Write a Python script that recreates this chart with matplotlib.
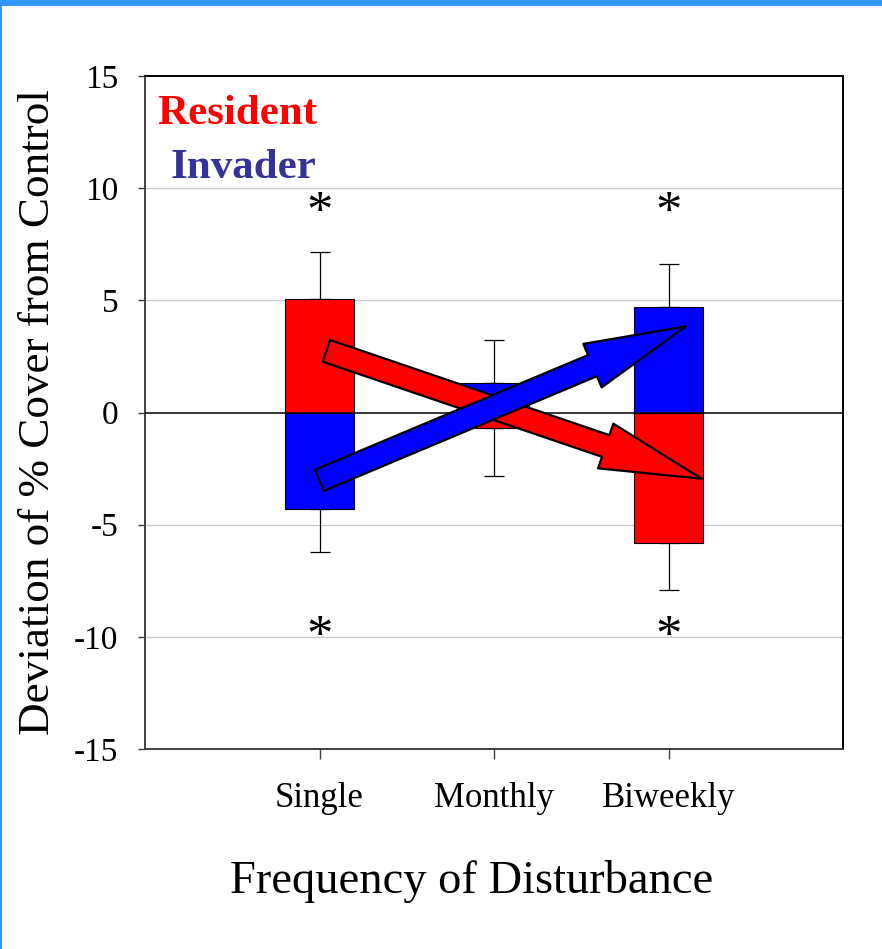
import matplotlib
matplotlib.use("Agg")
import matplotlib.pyplot as plt
from matplotlib.patches import FancyArrowPatch, Rectangle
import numpy as np

plt.rcParams["font.family"] = ["Liberation Serif", "DejaVu Serif"]
plt.rcParams["axes.unicode_minus"] = False

# disturbance treatments and mean deviation from control (% cover)
categories = ["Single", "Monthly", "Biweekly"]
resident = [5.05, -0.70, -5.80]
invader = [-4.30, 1.31, 4.72]
resident_se = [2.10, 2.13, 2.10]
invader_se = [1.90, 1.93, 1.90]
# significant differences marked above / below
star_y = [9.4, -9.5]
star_cats = [0, 2]
# trend arrows: (start, end) in data units
resident_trend = [(1.04, 2.75), (3.19, -2.95)]
invader_trend = [(1.00, -3.02), (3.10, 3.84)]

RED = "#ff0000"
BLUE = "#0000ff"

fig = plt.figure(figsize=(8.82, 9.49), dpi=100)
ax = fig.add_axes([0.1644, 0.2107, 0.7914, 0.7092])

x = np.arange(1, len(categories) + 1)
w = 0.4


def one_sided(vals, errs):
    vals = np.asarray(vals)
    errs = np.asarray(errs)
    lower = np.where(vals < 0, errs, 0)
    upper = np.where(vals >= 0, errs, 0)
    return [lower, upper]


ax.bar(x, resident, w, color=RED, edgecolor="black", linewidth=0.8, zorder=3)
ax.bar(x, invader, w, color=BLUE, edgecolor="black", linewidth=0.8, zorder=3)
ax.errorbar(x, resident, yerr=one_sided(resident, resident_se), fmt="none",
            ecolor="black", elinewidth=0.9, capsize=7, capthick=0.9, zorder=2)
ax.errorbar(x, invader, yerr=one_sided(invader, invader_se), fmt="none",
            ecolor="black", elinewidth=0.9, capsize=7, capthick=0.9, zorder=2)

# asterisk glyph sits high in its line box, so nudge it down a bit
for i in star_cats:
    for y in star_y:
        ax.annotate("*", (x[i], y), xytext=(0, -9), textcoords="offset points",
                    ha="center", va="center", fontsize=38, zorder=4)

# arrows showing the switch in dominance
for (p0, p1), col, z in [(resident_trend, RED, 5), (invader_trend, BLUE, 6)]:
    arr = FancyArrowPatch(p0, p1, arrowstyle="simple,head_length=73,head_width=34,tail_width=16.5",
                          mutation_scale=1, shrinkA=0, shrinkB=0,
                          facecolor=col, edgecolor="black", linewidth=1.6, zorder=z)
    ax.add_patch(arr)

ax.axhline(0, color="black", linewidth=1.1, zorder=4)
ax.set_xlim(0, 4)
ax.set_ylim(-15, 15)
ax.set_yticks(np.arange(-15, 16, 5))
ax.set_xticks(x)
ax.set_xticklabels(categories)
for g in [-10, -5, 5, 10]:
    ax.axhline(g, color="#c8c8c8", linewidth=1, zorder=1)

for sp in ax.spines.values():
    sp.set_color("#404040")
    sp.set_linewidth(1.4)
ax.spines["right"].set_color("black")
ax.spines["top"].set_color("black")
ax.tick_params(axis="y", direction="out", length=5, width=1, labelsize=24, pad=14, colors="#404040", labelcolor="black")
ax.tick_params(axis="x", direction="out", length=7, width=1, labelsize=25, pad=17, colors="#404040", labelcolor="black")

ax.set_ylabel("Deviation of % Cover from Control", fontsize=32.5, labelpad=12)
ax.set_xlabel("Frequency of Disturbance", fontsize=33.5, labelpad=32)
ax.xaxis.label.set_x(0.468)

ax.text(0.017, 0.972, "Resident", transform=ax.transAxes, color=RED, fontsize=31,
        fontweight="bold", va="top", ha="left")
ax.text(0.036, 0.892, "Invader", transform=ax.transAxes, color="#333399", fontsize=31,
        fontweight="bold", va="top", ha="left")

# slide frame
fig.patches.append(Rectangle((0, 1 - 6 / 949), 1, 6 / 949, transform=fig.transFigure,
                             facecolor="#3399ff", edgecolor="none"))
fig.patches.append(Rectangle((0, 0), 2 / 882, 1, transform=fig.transFigure,
                             facecolor="#3399ff", edgecolor="none"))

fig.savefig("out.png", dpi=100)
